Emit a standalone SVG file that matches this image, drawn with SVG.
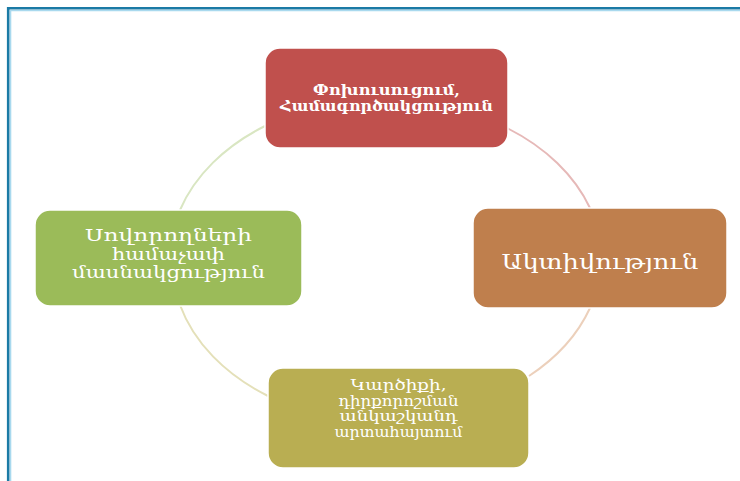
<svg xmlns="http://www.w3.org/2000/svg" width="740" height="481" viewBox="0 0 740 481">
<style>
.box{stroke:#ffffff;stroke-width:1.5}
.t{fill:#ffffff;font-family:"DejaVu Serif","Noto Sans",serif;text-anchor:middle;dominant-baseline:central}
.arc{fill:none;stroke-width:2}
</style>
<rect width="740" height="481" fill="#ffffff"/>
<g id="frame">
<path d="M8.2 481 V8.2 H740" fill="none" stroke="#1a7aa5" stroke-width="2.6"/>
<path d="M10.6 481 V10.6 H740" fill="none" stroke="#a9d9ee" stroke-width="1.4"/>
</g>
<g id="connectors">
<path class="arc" stroke="#e6b9b8" d="M507 128 A215 160 0 0 1 590 208"/>
<path class="arc" stroke="#ecd0bb" d="M590 308 A215 160 0 0 1 529 376"/>
<path class="arc" stroke="#e4e0b9" d="M268 396 A215 160 0 0 1 180 305"/>
<path class="arc" stroke="#d9e6c2" d="M180 210 A215 160 0 0 1 265 126"/>
</g>
<g id="node-top">
<rect class="box" x="265" y="48" width="243" height="100" rx="15" fill="#c0504d"/>
<text class="t" x="386.5" y="90" font-size="14" font-weight="bold" textLength="147" lengthAdjust="spacingAndGlyphs">Փոխուսուցում,</text>
<text class="t" x="386.5" y="106" font-size="14" font-weight="bold" textLength="213" lengthAdjust="spacingAndGlyphs">Համագործակցություն</text>
</g>
<g id="node-right">
<rect class="box" x="473" y="208" width="254" height="100" rx="15" fill="#bf7f4d"/>
<text class="t" x="600" y="262" font-size="20" textLength="197" lengthAdjust="spacingAndGlyphs">Ակտիվություն</text>
</g>
<g id="node-bottom">
<rect class="box" x="268" y="368" width="261" height="100" rx="15" fill="#b9ae52"/>
<text class="t" x="398.5" y="385" font-size="14" textLength="96" lengthAdjust="spacingAndGlyphs">Կարծիքի,</text>
<text class="t" x="398.5" y="400.5" font-size="14" textLength="120" lengthAdjust="spacingAndGlyphs">դիրքորոշման</text>
<text class="t" x="398.5" y="416" font-size="14" textLength="118" lengthAdjust="spacingAndGlyphs">անկաշկանդ</text>
<text class="t" x="398.5" y="431.5" font-size="14" textLength="128" lengthAdjust="spacingAndGlyphs">արտահայտում</text>
</g>
<g id="node-left">
<rect class="box" x="35" y="210" width="267" height="96" rx="15" fill="#9bbb59"/>
<text class="t" x="168.5" y="235" font-size="17" textLength="167" lengthAdjust="spacingAndGlyphs">Սովորողների</text>
<text class="t" x="168.5" y="253.5" font-size="17" textLength="113" lengthAdjust="spacingAndGlyphs">համաչափ</text>
<text class="t" x="168.5" y="272" font-size="17" textLength="193" lengthAdjust="spacingAndGlyphs">մասնակցություն</text>
</g>
</svg>
